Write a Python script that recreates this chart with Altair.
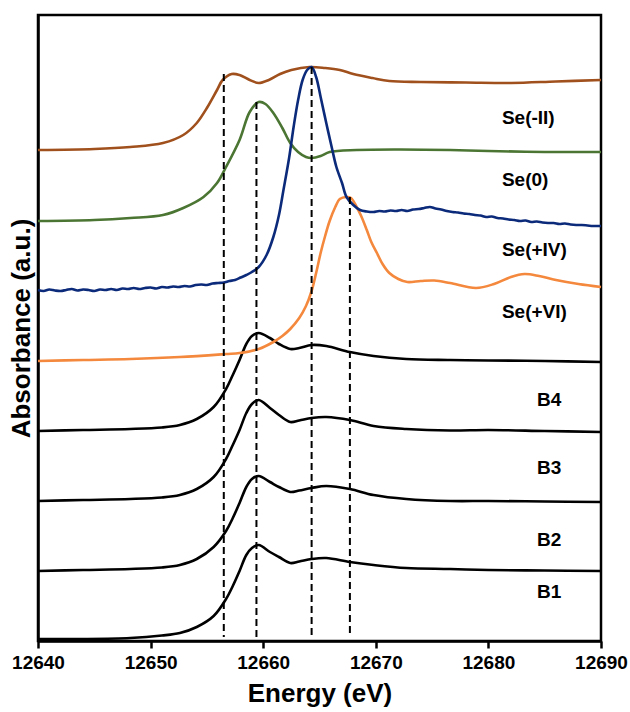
import altair as alt
import pandas as pd

# ---- data (energy in eV, absorbance in a.u. with vertical offsets) ----
se_m2_e = [12640, 12645, 12648.2, 12651.1, 12652.9, 12654.1, 12655, 12655.9, 12656.4, 12657.2, 12657.9,
           12658.8, 12659.6, 12660.5, 12661.5, 12662.5, 12664.1, 12665.5, 12666.8, 12668, 12669.7, 12671.2,
           12674, 12678, 12682, 12686, 12690]
se_m2_a = [4.91, 4.92, 4.94, 4.98, 5.06, 5.18, 5.33, 5.51, 5.61, 5.67, 5.66,
           5.61, 5.58, 5.61, 5.67, 5.71, 5.74, 5.73, 5.71, 5.67, 5.63, 5.60,
           5.59, 5.585, 5.58, 5.595, 5.61]

se_0_e = [12640, 12645, 12648.2, 12651.1, 12652.9, 12654.7, 12655.9, 12656.7, 12657.9, 12658.8, 12659.6,
          12660.2, 12660.9, 12661.7, 12662.4, 12663.1, 12663.8, 12664.3, 12665.1, 12665.9, 12668.3, 12672,
          12676.6, 12680, 12685, 12690]
se_0_a = [4.20, 4.21, 4.23, 4.26, 4.33, 4.44, 4.58, 4.74, 5.01, 5.29, 5.39,
          5.37, 5.28, 5.13, 4.98, 4.89, 4.84, 4.83, 4.85, 4.89, 4.91, 4.915,
          4.91, 4.90, 4.89, 4.89]

se_p4_e = [12640, 12640.5, 12641, 12641.5, 12642, 12642.5, 12643, 12643.5, 12644, 12644.5, 12645, 12645.5,
           12646, 12646.5, 12647, 12647.5, 12648, 12648.5, 12649, 12649.5, 12650, 12650.5, 12651, 12651.5,
           12652, 12652.5, 12653, 12653.5, 12654, 12654.5, 12655, 12655.5, 12656, 12656.5, 12657, 12657.5,
           12658, 12658.5, 12659, 12659.6, 12660.3, 12660.9, 12661.4, 12661.8, 12662.3, 12662.7, 12663.1,
           12663.5, 12663.9, 12664.3, 12664.7, 12665.1, 12665.6, 12666.1, 12666.5, 12667, 12667.4, 12668,
           12668.6, 12669.2, 12669.8, 12670.3, 12670.8, 12671.3, 12671.8, 12672.3, 12672.8, 12673.3, 12673.8,
           12674.3, 12674.8, 12675.3, 12675.8, 12676.3, 12676.8, 12677.3, 12677.8, 12678.3, 12678.8, 12679.3,
           12679.8, 12680.3, 12680.8, 12681.3, 12681.8, 12682.3, 12682.8, 12683.3, 12683.8, 12684.3, 12684.8,
           12685.3, 12685.8, 12686.3, 12686.8, 12687.3, 12687.8, 12688.3, 12688.8, 12689.3, 12689.8, 12690]
se_p4_a = [3.51, 3.50, 3.515, 3.505, 3.50, 3.51, 3.52, 3.505, 3.515, 3.51, 3.50, 3.515,
           3.51, 3.52, 3.51, 3.525, 3.52, 3.53, 3.52, 3.53, 3.535, 3.525, 3.54, 3.535,
           3.545, 3.54, 3.55, 3.545, 3.56, 3.565, 3.56, 3.575, 3.58, 3.585, 3.60, 3.61,
           3.635, 3.66, 3.69, 3.74, 3.86, 4.04, 4.26, 4.51, 4.83, 5.14, 5.41,
           5.61, 5.71, 5.74, 5.64, 5.44, 5.18, 4.93, 4.74, 4.58, 4.44, 4.36,
           4.31, 4.295, 4.29, 4.30, 4.295, 4.305, 4.30, 4.31, 4.30, 4.315, 4.32,
           4.33, 4.34, 4.325, 4.315, 4.30, 4.29, 4.285, 4.275, 4.27, 4.26, 4.255,
           4.24, 4.245, 4.23, 4.225, 4.215, 4.21, 4.20, 4.205, 4.19, 4.195, 4.185,
           4.18, 4.18, 4.17, 4.175, 4.165, 4.16, 4.16, 4.155, 4.15, 4.15, 4.15]

se_p6_e = [12640, 12644, 12648.2, 12652.6, 12656.7, 12657.9, 12659.6, 12660.9, 12661.7, 12662.4, 12663.2,
           12663.8, 12664.3, 12664.7, 12665.1, 12665.5, 12665.9, 12666.4, 12666.8, 12667.4, 12667.8, 12668.3,
           12668.7, 12669.2, 12669.6, 12670.1, 12670.6, 12671.2, 12672, 12672.8, 12674, 12675.2, 12676.6,
           12678.9, 12680.5, 12682, 12683.2, 12684.5, 12686, 12688, 12690]
se_p6_a = [2.80, 2.81, 2.82, 2.84, 2.87, 2.88, 2.92, 2.99, 3.05, 3.12, 3.23,
           3.35, 3.50, 3.68, 3.88, 4.05, 4.20, 4.34, 4.42, 4.44, 4.43, 4.34,
           4.25, 4.11, 3.99, 3.88, 3.77, 3.68, 3.62, 3.59, 3.60, 3.605, 3.58,
           3.53, 3.57, 3.64, 3.67, 3.65, 3.61, 3.57, 3.54]

b_e = [12640, 12644, 12648.2, 12651, 12652.6, 12654.1, 12655.6, 12656.7, 12657.3, 12657.9, 12658.5,
       12659, 12659.6, 12660.6, 12661.4, 12662.4, 12663.2, 12664.3, 12665.6, 12667.7, 12669.8, 12672.7,
       12676.6, 12680, 12685, 12690]
b4_a = [2.10, 2.11, 2.12, 2.135, 2.16, 2.22, 2.34, 2.52, 2.66, 2.81, 2.97,
        3.05, 3.08, 3.03, 2.97, 2.92, 2.93, 2.96, 2.95, 2.89, 2.85, 2.82,
        2.81, 2.805, 2.80, 2.79]
b3_a = [1.40, 1.41, 1.42, 1.435, 1.46, 1.52, 1.64, 1.82, 1.96, 2.11, 2.28,
        2.37, 2.41, 2.33, 2.26, 2.19, 2.205, 2.23, 2.24, 2.21, 2.15, 2.12,
        2.105, 2.11, 2.10, 2.09]
b2_a = [0.70, 0.71, 0.72, 0.735, 0.76, 0.82, 0.94, 1.10, 1.23, 1.38, 1.54,
        1.62, 1.65, 1.59, 1.54, 1.49, 1.505, 1.53, 1.55, 1.52, 1.46, 1.42,
        1.40, 1.40, 1.395, 1.39]
b1_a = [0.02, 0.02, 0.03, 0.055, 0.08, 0.14, 0.25, 0.42, 0.55, 0.70, 0.86,
        0.93, 0.96, 0.89, 0.84, 0.78, 0.795, 0.82, 0.83, 0.79, 0.76, 0.73,
        0.72, 0.71, 0.705, 0.70]

series_names = ["B1", "B2", "B3", "B4", "Se(+VI)", "Se(0)", "Se(-II)", "Se(+IV)"]
series_colors = ["#000000", "#000000", "#000000", "#000000", "#F4883C", "#4B7532", "#A0501C", "#0C2A7A"]

# labels
label_text = ["Se(-II)", "Se(0)", "Se(+IV)", "Se(+VI)"]
label_x = [12681.2, 12681.2, 12681.2, 12681.2]
label_y = [5.23, 4.61, 3.91, 3.29]
blabel_text = ["B4", "B3", "B2", "B1"]
blabel_x = [12685.4, 12685.4, 12685.4, 12685.4]
blabel_y = [2.41, 1.73, 1.01, 0.49]

# dashed reference lines (energy, top, bottom)
ref_e = [12656.5, 12659.4, 12664.3, 12667.7]
ref_top = [5.67, 5.39, 5.74, 4.44]
ref_bottom = [0.04, 0.04, 0.04, 0.04]

x_ticks = [12640, 12650, 12660, 12670, 12680, 12690]

# ---- build table ----
rows = []
spec = [("B1", b_e, b1_a), ("B2", b_e, b2_a), ("B3", b_e, b3_a), ("B4", b_e, b4_a),
        ("Se(+VI)", se_p6_e, se_p6_a), ("Se(0)", se_0_e, se_0_a),
        ("Se(-II)", se_m2_e, se_m2_a), ("Se(+IV)", se_p4_e, se_p4_a)]
for i, (name, es, avals) in enumerate(spec):
    for j, (e, a) in enumerate(zip(es, avals)):
        rows.append({"series": name, "energy": e, "abs": a, "ord": i, "idx": j})
df = pd.DataFrame(rows)

lab_df = pd.DataFrame({"t": label_text, "x": label_x, "y": label_y})
blab_df = pd.DataFrame({"t": blabel_text, "x": blabel_x, "y": blabel_y})
ref_df = pd.DataFrame({"x": ref_e, "y": ref_top, "y2": ref_bottom})

FONT = "Liberation Sans"
xscale = alt.Scale(domain=[12640, 12690], nice=False, zero=False)
yscale = alt.Scale(domain=[0, 6.26], nice=False, zero=False)

lines = alt.Chart(df).mark_line(strokeWidth=2.6, interpolate="catmull-rom").encode(
    x=alt.X("energy:Q", scale=xscale,
            axis=alt.Axis(title="Energy (eV)", values=x_ticks, format="d",
                          labelFont=FONT, labelFontSize=19, labelFontWeight="bold", labelColor="black",
                          titleFont=FONT, titleFontSize=26, titleFontWeight="bold", titleColor="black",
                          tickColor="black", tickWidth=2.5, tickSize=7, labelPadding=5, titlePadding=8,
                          domainColor="black", domainWidth=2.5, grid=False, labelFlush=False)),
    y=alt.Y("abs:Q", scale=yscale,
            axis=alt.Axis(title="Absorbance (a.u.)", labels=False, ticks=False, grid=False,
                          titleFont=FONT, titleFontSize=26, titleFontWeight="bold", titleColor="black",
                          titlePadding=4, domainColor="black", domainWidth=2.5)),
    color=alt.Color("series:N", scale=alt.Scale(domain=series_names, range=series_colors), legend=None),
    order=alt.Order("idx:Q"),
)

rules = alt.Chart(ref_df).mark_rule(color="black", strokeWidth=2, strokeDash=[7, 4]).encode(
    x=alt.X("x:Q", scale=xscale), y=alt.Y("y:Q", scale=yscale), y2="y2:Q"
)

labels = alt.Chart(lab_df).mark_text(align="left", baseline="middle", font=FONT, fontSize=19,
                                     fontWeight="bold", color="black").encode(
    x=alt.X("x:Q", scale=xscale), y=alt.Y("y:Q", scale=yscale), text="t:N"
)
blabels = alt.Chart(blab_df).mark_text(align="center", baseline="middle", font=FONT, fontSize=19,
                                       fontWeight="bold", color="black").encode(
    x=alt.X("x:Q", scale=xscale), y=alt.Y("y:Q", scale=yscale), text="t:N"
)

chart = alt.layer(lines, rules, labels, blabels).properties(
    width=563, height=626,
    autosize=alt.AutoSizeParams(type="none"),
    padding={"left": 38, "top": 15, "right": 29, "bottom": 71},
    background="white",
).configure_view(stroke="black", strokeWidth=2.5)

chart.save("out.html", embed_options={"renderer": "svg", "actions": False})
